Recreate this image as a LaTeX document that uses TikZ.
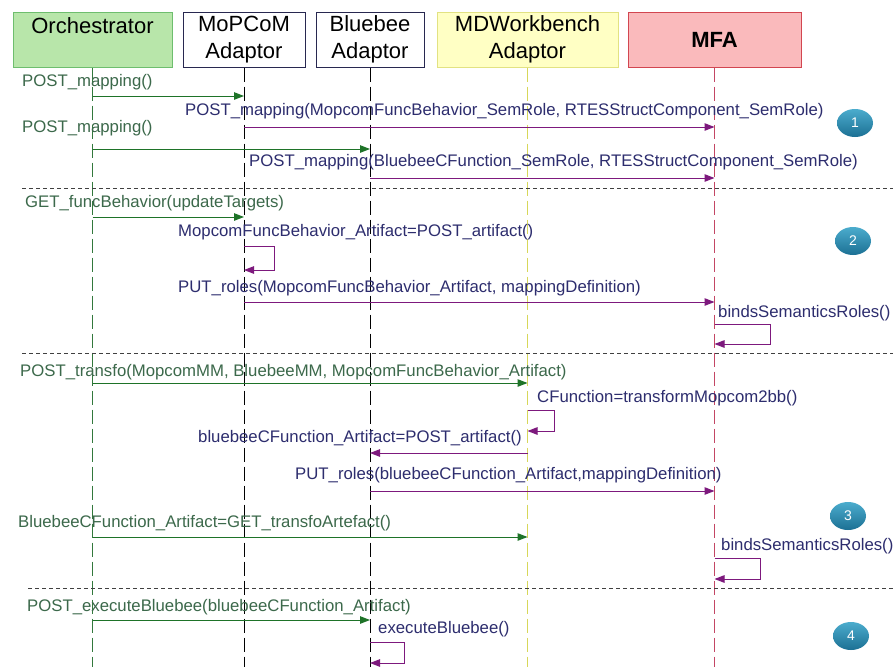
\documentclass[tikz,border=0pt]{standalone}
\usepackage{fontspec}
\setmainfont{Liberation Sans}
\usetikzlibrary{arrows.meta,shapes.geometric}
\definecolor{orchfill}{RGB}{184,230,170}
\definecolor{orchdraw}{RGB}{110,190,110}
\definecolor{adaptdraw}{RGB}{40,40,80}
\definecolor{mdwfill}{RGB}{255,255,196}
\definecolor{mdwdraw}{RGB}{226,226,130}
\definecolor{mfafill}{RGB}{250,186,188}
\definecolor{mfadraw}{RGB}{210,70,80}
\definecolor{orchline}{RGB}{50,120,60}
\definecolor{mdwline}{RGB}{215,215,90}
\definecolor{mfaline}{RGB}{195,70,100}
\definecolor{msggreen}{RGB}{30,115,40}
\definecolor{msgpurple}{RGB}{125,25,125}
\definecolor{txtgreen}{RGB}{60,105,75}
\definecolor{txtpurple}{RGB}{45,45,110}
\definecolor{balltop}{RGB}{75,172,205}
\definecolor{ballbottom}{RGB}{28,112,148}
\begin{document}
\begin{tikzpicture}[x=1pt, y=-1pt,
  head/.style={draw, line width=1pt, minimum height=55pt, inner sep=0pt,
    align=center, font=\fontsize{22}{27}\selectfont},
  lifeline/.style={line width=1pt, dash pattern=on 14pt off 5pt},
  gmsg/.style={draw=msggreen, line width=1pt,
    -{Triangle[length=10pt,width=7.5pt]}},
  pmsg/.style={draw=msgpurple, line width=1pt,
    -{Triangle[length=10pt,width=7.5pt]}},
  glabel/.style={anchor=west, inner sep=0pt, text=txtgreen,
    font=\fontsize{16.75}{19}\selectfont},
  plabel/.style={anchor=west, inner sep=0pt, text=txtpurple,
    font=\fontsize{16.75}{19}\selectfont},
  phase/.style={draw=black!75, line width=0.7pt, dash pattern=on 4pt off 3pt},
  stepball/.style={ellipse, minimum width=36pt, minimum height=28pt,
    inner sep=0pt, top color=balltop, bottom color=ballbottom, text=white,
    font=\fontsize{14}{14}\selectfont}]
\useasboundingbox[fill=white] (0,0) rectangle (895,667);
% Participants.
\node[head, fill=orchfill, draw=orchdraw, minimum width=159pt]
  (orch) at (92.5,39.5) {Orchestrator\\\mbox{}};
\node[head, fill=white, draw=adaptdraw, minimum width=122pt]
  (mop) at (244,39.5) {MoPCoM\\Adaptor};
\node[head, fill=white, draw=adaptdraw, minimum width=108pt]
  (blue) at (370,39.5) {Bluebee\\Adaptor};
\node[head, fill=mdwfill, draw=mdwdraw, minimum width=181pt]
  (mdw) at (527.5,39.5) {MDWorkbench\\Adaptor};
\node[head, fill=mfafill, draw=mfadraw, minimum width=173pt]
  (mfa) at (714.5,39.5) {\textbf{MFA}};
% Lifelines.
\coordinate (bottom) at (0,667);
\draw[lifeline, orchline] (orch.south) -- (orch.south |- bottom);
\draw[lifeline, black] (mop.south) -- (mop.south |- bottom);
\draw[lifeline, black] (blue.south) -- (blue.south |- bottom);
\draw[lifeline, mdwline] (mdw.south) -- (mdw.south |- bottom);
\draw[lifeline, mfaline] (mfa.south) -- (mfa.south |- bottom);
% Phase separators.
\draw[phase] (22,188) -- (893,188);
\draw[phase] (22,353) -- (893,353);
\draw[phase] (28,588) -- (893,588);
% Phase 1: mappings.
\node[glabel] (l1) at (22,82) {POST\_mapping()};
\coordinate (y1) at (0,96);
\draw[gmsg] (orch |- y1) -- (mop |- y1);
\node[plabel] (l2) at (185,111)
  {POST\_mapping(MopcomFuncBehavior\_SemRole, RTESStructComponent\_SemRole)};
\coordinate (y2) at (0,127);
\draw[pmsg] (mop |- y2) -- (mfa |- y2);
\node[glabel] (l3) at (22,128) {POST\_mapping()};
\coordinate (y3) at (0,149);
\draw[gmsg] (orch |- y3) -- (blue |- y3);
\node[plabel] (l4) at (249,162)
  {POST\_mapping(BluebeeCFunction\_SemRole, RTESStructComponent\_SemRole)};
\coordinate (y4) at (0,178);
\draw[pmsg] (blue |- y4) -- (mfa |- y4);
% Phase 2: functional behaviour artifact.
\node[glabel] (l5) at (25,203) {GET\_funcBehavior(updateTargets)};
\coordinate (y5) at (0,217);
\draw[gmsg] (orch |- y5) -- (mop |- y5);
\node[plabel] (l6) at (178,232) {MopcomFuncBehavior\_Artifact=POST\_artifact()};
\coordinate (s1a) at (0,246);
\coordinate (s1b) at (0,270);
\draw[pmsg] (mop |- s1a) -- ++(30,0) |- (mop |- s1b);
\node[plabel] (l7) at (178,288)
  {PUT\_roles(MopcomFuncBehavior\_Artifact, mappingDefinition)};
\coordinate (y6) at (0,302);
\draw[pmsg] (mop |- y6) -- (mfa |- y6);
\node[plabel] (l8) at (718,313) {bindsSemanticsRoles()};
\coordinate (s2a) at (0,324);
\coordinate (s2b) at (0,344);
\draw[pmsg] (mfa |- s2a) -- ++(56,0) |- (mfa |- s2b);
% Phase 3: transformation.
\node[glabel] (l9) at (20,372)
  {POST\_transfo(MopcomMM, BluebeeMM, MopcomFuncBehavior\_Artifact)};
\coordinate (y7) at (0,383);
\draw[gmsg] (orch |- y7) -- (mdw |- y7);
\node[plabel] (l10) at (537,398) {CFunction=transformMopcom2bb()};
\coordinate (s3a) at (0,410);
\coordinate (s3b) at (0,431);
\draw[pmsg] (mdw |- s3a) -- ++(27,0) |- (mdw |- s3b);
\node[plabel] (l11) at (198,438) {bluebeeCFunction\_Artifact=POST\_artifact()};
\coordinate (y8) at (0,453);
\draw[pmsg] (mdw |- y8) -- (blue |- y8);
\node[plabel] (l12) at (295,475)
  {PUT\_roles(bluebeeCFunction\_Artifact,mappingDefinition)};
\coordinate (y9) at (0,491);
\draw[pmsg] (blue |- y9) -- (mfa |- y9);
\node[glabel] (l13) at (18,523)
  {BluebeeCFunction\_Artifact=GET\_transfoArtefact()};
\coordinate (y10) at (0,537);
\draw[gmsg] (orch |- y10) -- (mdw |- y10);
\node[plabel] (l14) at (721,546) {bindsSemanticsRoles()};
\coordinate (s4a) at (0,558);
\coordinate (s4b) at (0,579);
\draw[pmsg] (mfa |- s4a) -- ++(46,0) |- (mfa |- s4b);
% Phase 4: execution.
\node[glabel] (l15) at (27,607)
  {POST\_executeBluebee(bluebeeCFunction\_Artifact)};
\coordinate (y11) at (0,620);
\draw[gmsg] (orch |- y11) -- (blue |- y11);
\node[plabel] (l16) at (378,629) {executeBluebee()};
\coordinate (s5a) at (0,642);
\coordinate (s5b) at (0,663);
\draw[pmsg] (blue |- s5a) -- ++(34,0) |- (blue |- s5b);
% Phase numbers.
\node[stepball] (n1) at (855,123) {1};
\node[stepball] (n2) at (853,241) {2};
\node[stepball] (n3) at (848,516) {3};
\node[stepball] (n4) at (851,636) {4};
\end{tikzpicture}
\end{document}
